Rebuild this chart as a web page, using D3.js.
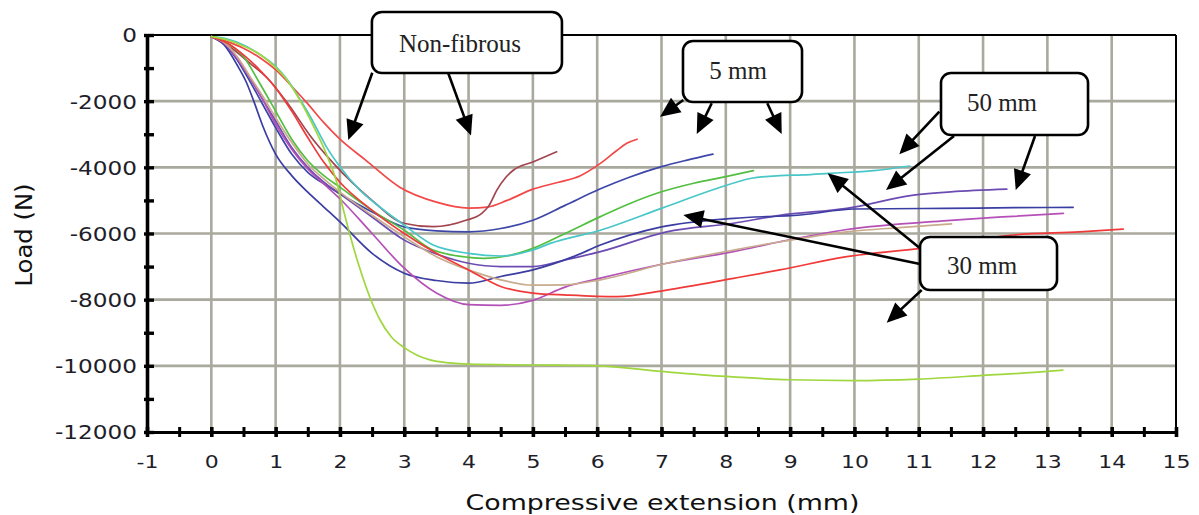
<!DOCTYPE html>
<html><head><meta charset="utf-8">
<script src="https://cdn.jsdelivr.net/npm/d3@7"></script>
<style>body{margin:0;background:#fff}svg{display:block}</style>
</head><body>
<svg id="chart" width="1199" height="515"></svg>
<script>
// ---------- data ----------
const xTickLabels = [-1,0,1,2,3,4,5,6,7,8,9,10,11,12,13,14,15];
const yTickLabels = [0,-2000,-4000,-6000,-8000,-10000,-12000];
const xTitle = "Compressive extension (mm)";
const yTitle = "Load (N)";

// extension (mm), load (N)
const nonFibrousA = [[0,-50],[0.25,-200],[0.5,-400],[0.75,-680],[1.0,-1050],[1.25,-1550],[1.5,-2080],[1.75,-2650],[2.0,-3150],[2.4,-3780],[2.93,-4600],[3.5,-5050],[4.0,-5230],[4.3,-5200],[4.6,-5000],[5.0,-4660],[5.4,-4450],[5.73,-4260],[6.05,-3880],[6.3,-3500],[6.46,-3275],[6.62,-3150]];
const nonFibrousB = [[0,-50],[0.3,-380],[0.6,-850],[0.87,-1300],[1.2,-2100],[1.54,-3050],[1.9,-3880],[2.2,-4480],[2.5,-5000],[2.99,-5690],[3.45,-5795],[3.97,-5593],[4.2,-5400],[4.32,-5150],[4.44,-4690],[4.58,-4300],[4.7,-4080],[5.01,-3830],[5.37,-3530]];
const fibre5A = [[0,-50],[0.2,-250],[0.4,-750],[0.6,-1400],[0.8,-2100],[1.0,-2800],[1.25,-3600],[1.5,-4150],[1.75,-4500],[2.0,-4800],[2.5,-5350],[3.0,-5800],[3.5,-5920],[4.0,-5950],[4.5,-5850],[5.0,-5600],[5.5,-5150],[6.05,-4650],[6.5,-4300],[7.0,-3980],[7.4,-3780],[7.8,-3600]];
const fibre5B = [[0,-50],[0.25,-250],[0.5,-650],[0.75,-1450],[1.0,-2300],[1.25,-3150],[1.5,-3800],[1.75,-4250],[2.0,-4600],[2.5,-5300],[3.0,-5900],[3.45,-6500],[4.0,-6720],[4.25,-6750],[4.6,-6680],[5.0,-6450],[5.5,-6000],[6.05,-5490],[6.5,-5100],[7.0,-4740],[7.5,-4480],[8.0,-4280],[8.43,-4100]];
const fibre50A = [[0,-50],[0.25,-120],[0.5,-300],[0.75,-580],[1.0,-950],[1.2,-1400],[1.38,-1950],[1.54,-2470],[1.79,-3380],[2.0,-3980],[2.31,-4690],[2.62,-5200],[3.0,-5750],[3.45,-6350],[4.0,-6600],[4.5,-6680],[5.0,-6500],[5.27,-6300],[6.05,-5900],[7.0,-5240],[7.86,-4640],[8.4,-4330],[8.84,-4250],[9.2,-4230],[9.62,-4180],[10.3,-4100],[10.86,-3960]];
const fibre50B = [[0,-50],[0.2,-250],[0.4,-700],[0.6,-1300],[0.8,-1950],[1.0,-2600],[1.25,-3400],[1.5,-4000],[1.75,-4450],[2.0,-4800],[2.5,-5500],[3.0,-6200],[3.5,-6620],[4.0,-6900],[4.5,-7000],[5.0,-7000],[5.5,-6800],[6.05,-6550],[7.08,-5950],[8.12,-5690],[8.84,-5450],[9.88,-5240],[10.92,-4840],[11.5,-4740],[12.37,-4660]];
const fibre50C = [[0,-50],[0.2,-300],[0.4,-900],[0.55,-1450],[0.66,-2000],[0.8,-2750],[1.0,-3600],[1.25,-4250],[1.5,-4750],[1.75,-5200],[2.0,-5650],[2.5,-6600],[3.0,-7200],[3.5,-7420],[4.0,-7500],[4.5,-7300],[5.0,-7100],[5.63,-6700],[6.05,-6350],[7.0,-5800],[8.12,-5540],[9.16,-5440],[10.0,-5260],[11.4,-5240],[12.5,-5220],[13.4,-5210]];
const fibre30A = [[0,-50],[0.2,-250],[0.4,-700],[0.6,-1300],[0.8,-1950],[1.0,-2700],[1.25,-3450],[1.5,-4050],[1.75,-4500],[2.0,-4950],[2.5,-6000],[3.0,-7050],[3.5,-7800],[4.0,-8150],[4.5,-8170],[5.0,-8020],[5.5,-7620],[6.05,-7350],[7.08,-6900],[8.12,-6550],[8.84,-6250],[9.88,-5880],[11.44,-5610],[12.3,-5500],[13.25,-5390]];
const fibre30B = [[0,-50],[0.2,-230],[0.4,-650],[0.6,-1250],[0.8,-1850],[1.0,-2500],[1.25,-3250],[1.5,-3900],[1.75,-4350],[2.0,-4750],[2.5,-5450],[3.0,-6100],[3.5,-6700],[4.0,-7100],[4.5,-7400],[5.0,-7560],[5.5,-7550],[6.05,-7400],[7.08,-6900],[8.12,-6500],[8.84,-6250],[9.88,-5950],[10.7,-5820],[11.51,-5710]];
const fibre30C = [[0,-50],[0.25,-250],[0.5,-600],[0.75,-1050],[1.0,-1600],[1.25,-2300],[1.5,-3100],[1.75,-3850],[2.0,-4450],[2.5,-5300],[3.0,-6000],[3.5,-6600],[4.0,-7100],[4.5,-7600],[5.0,-7800],[5.53,-7860],[6.31,-7910],[7.08,-7710],[8.12,-7355],[8.84,-7100],[9.88,-6700],[11.02,-6450],[12.47,-6045],[13.5,-5950],[14.18,-5865]];
const fibre30D = [[0,-50],[0.25,-150],[0.5,-330],[0.75,-580],[1.0,-980],[1.2,-1420],[1.4,-2050],[1.6,-2800],[1.8,-3650],[1.95,-4450],[2.05,-5250],[2.15,-6000],[2.3,-7000],[2.47,-7950],[2.62,-8600],[2.8,-9130],[3.0,-9450],[3.2,-9680],[3.4,-9820],[3.7,-9910],[4.0,-9950],[5.0,-9975],[6.0,-10000],[7.0,-10170],[8.0,-10320],[9.0,-10420],[10.0,-10445],[11.0,-10400],[12.0,-10290],[13.0,-10170],[13.24,-10130]];

const seriesNames = ["Non-fibrous A","Non-fibrous B","5 mm A","5 mm B","50 mm A","50 mm B","50 mm C","30 mm A","30 mm B","30 mm C","30 mm D"];
const seriesValues = [nonFibrousA,nonFibrousB,fibre5A,fibre5B,fibre50A,fibre50B,fibre50C,fibre30A,fibre30B,fibre30C,fibre30D];
const seriesColors = ["#f24848","#a3454f","#3d47a8","#52bf40","#48c6c8","#6c4cb2","#3b3da2","#b450b8","#c9ab8d","#f03a3a","#a0d63e"];

// ---------- callouts (in data units) ----------
const calloutText = ["Non-fibrous","5 mm","50 mm","30 mm"];
const calloutBox = [[2.497,5.452,695,-1149],[7.334,9.185,-181,-2025],[11.346,13.632,-1149,-3023],[11.02,13.15,-6106,-7708]];
const calloutAnchor = [[3.867,-505],[8.19,-1339],[12.294,-2288],[11.984,-7233]];
const arrowFrom = [[2.503,-1140],[3.685,-1158],[7.339,-1965],[7.781,-2064],[8.645,-2064],[11.32,-2318],[11.548,-3053],[12.808,-3053],[11.02,-6447],[11.02,-6922],[11.046,-7708]];
const arrowTo   = [[2.13,-3174],[4.038,-3038],[6.977,-2470],[7.548,-2992],[8.869,-2992],[10.698,-3606],[10.491,-4685],[12.508,-4685],[9.584,-4180],[7.339,-5441],[10.502,-8696]];

// ---------- drawing ----------
const svg = d3.select("#chart");
svg.append("rect").attr("width",1199).attr("height",515).attr("fill","#fff");
const L=147, R=1176, T=35, B=432;
const x = d3.scaleLinear().domain([-1,15]).range([L,R]);
const y = d3.scaleLinear().domain([-12000,0]).range([B,T]);
const gridColor = "#a9a99d";
const SX = 1.22;

const grid = svg.append("g");
grid.selectAll("line.v").data(xTickLabels.filter(v=>v>-1 && v<15)).join("line")
  .attr("x1",d=>x(d)).attr("x2",d=>x(d)).attr("y1",T).attr("y2",B)
  .attr("stroke",gridColor).attr("stroke-width",2.6);
grid.selectAll("line.h").data(yTickLabels.filter(v=>v<0 && v>-12000)).join("line")
  .attr("x1",L).attr("x2",R).attr("y1",d=>y(d)).attr("y2",d=>y(d))
  .attr("stroke",gridColor).attr("stroke-width",2.6);

// frame top & right
svg.append("line").attr("x1",L).attr("x2",R).attr("y1",T).attr("y2",T).attr("stroke","#000").attr("stroke-width",2);
svg.append("line").attr("x1",R).attr("x2",R).attr("y1",T).attr("y2",B).attr("stroke","#000").attr("stroke-width",2);

// series
const line = d3.line().x(d=>x(d[0])).y(d=>y(d[1])).curve(d3.curveMonotoneX);
svg.append("g").selectAll("path").data(seriesValues).join("path")
  .attr("d",line).attr("fill","none")
  .attr("stroke",(d,i)=>seriesColors[i]).attr("stroke-width",1.7)
  .attr("stroke-linejoin","round").attr("stroke-linecap","round")
  .append("title").text((d,i)=>seriesNames[i]);

// x axis
const xAxis = d3.axisBottom(x).tickValues(d3.range(-1,15.001,0.5))
  .tickFormat(d=> Number.isInteger(d) ? String(d) : "").tickSizeOuter(0).tickSize(5);
const gx = svg.append("g").attr("transform",`translate(0,${B})`).call(xAxis);
gx.select(".domain").attr("stroke","#000").attr("stroke-width",3);
gx.selectAll(".tick line").attr("y1",-5).attr("y2",5).attr("stroke","#000")
  .attr("stroke-width",d=>Number.isInteger(d)?3.6:3);
gx.selectAll(".tick text").attr("y",36).attr("dy",0)
  .attr("transform",`scale(${SX},1)`)
  .style("font-family","'DejaVu Sans', Verdana, sans-serif").style("font-size","18px").attr("fill","#1e1e2a");

// y axis
const yAxis = d3.axisLeft(y).tickValues(d3.range(-12000,0.1,1000))
  .tickFormat(d=> d%2000===0 ? String(d) : "").tickSizeOuter(0).tickSize(0);
const gy = svg.append("g").attr("transform",`translate(${L},0)`).call(yAxis);
gy.select(".domain").attr("stroke","#000").attr("stroke-width",3.6);
gy.selectAll(".tick line").attr("x1",-3).attr("x2",7).attr("stroke","#000").attr("stroke-width",3.4);
gy.selectAll(".tick text").attr("x",-10/SX).attr("dy","0.36em")
  .attr("transform",`scale(${SX},1)`)
  .style("font-family","'DejaVu Sans', Verdana, sans-serif").style("font-size","19px").attr("fill","#1e1e2a");

// axis titles
svg.append("text").attr("transform",`translate(${(465+860)/2},510) scale(${SX},1)`)
  .attr("text-anchor","middle").style("font-family","'DejaVu Sans', Verdana, sans-serif")
  .style("font-size","22px").attr("fill","#111").text(xTitle);
svg.append("text").attr("transform","translate(24,235) rotate(-90)")
  .attr("text-anchor","middle").attr("dy","0.36em")
  .attr("textLength",103).attr("lengthAdjust","spacingAndGlyphs")
  .style("font-family","'DejaVu Sans', Verdana, sans-serif")
  .style("font-size","23px").attr("fill","#111").text(yTitle);

// arrows
const ann = svg.append("g");
arrowFrom.forEach((f,i)=>{
  const sx=x(f[0]), sy=y(f[1]), tx=x(arrowTo[i][0]), ty=y(arrowTo[i][1]);
  const dx=tx-sx, dy=ty-sy, len=Math.hypot(dx,dy), ux=dx/len, uy=dy/len;
  const hl=20, hw=9;
  const bx=tx-ux*hl, by=ty-uy*hl;
  ann.append("line").attr("x1",sx).attr("y1",sy).attr("x2",bx+ux*2).attr("y2",by+uy*2)
    .attr("stroke","#000").attr("stroke-width",2.6);
  ann.append("polygon").attr("points",[[tx,ty],[bx-uy*hw,by+ux*hw],[bx+uy*hw,by-ux*hw]].map(p=>p.join(",")).join(" "))
    .attr("fill","#000");
});
// callout boxes
calloutBox.forEach((b,i)=>{
  ann.append("rect").attr("x",x(b[0])).attr("y",y(b[2]))
    .attr("width",x(b[1])-x(b[0])).attr("height",y(b[3])-y(b[2]))
    .attr("rx",10).attr("ry",10).attr("fill","#fff").attr("stroke","#000").attr("stroke-width",2.6);
  ann.append("text").attr("x",x(calloutAnchor[i][0])).attr("y",y(calloutAnchor[i][1]))
    .attr("text-anchor","middle").style("font-family","'Liberation Serif','Times New Roman',serif")
    .style("font-size","25px").attr("fill","#222").text(calloutText[i]);
});
</script>
</body></html>
